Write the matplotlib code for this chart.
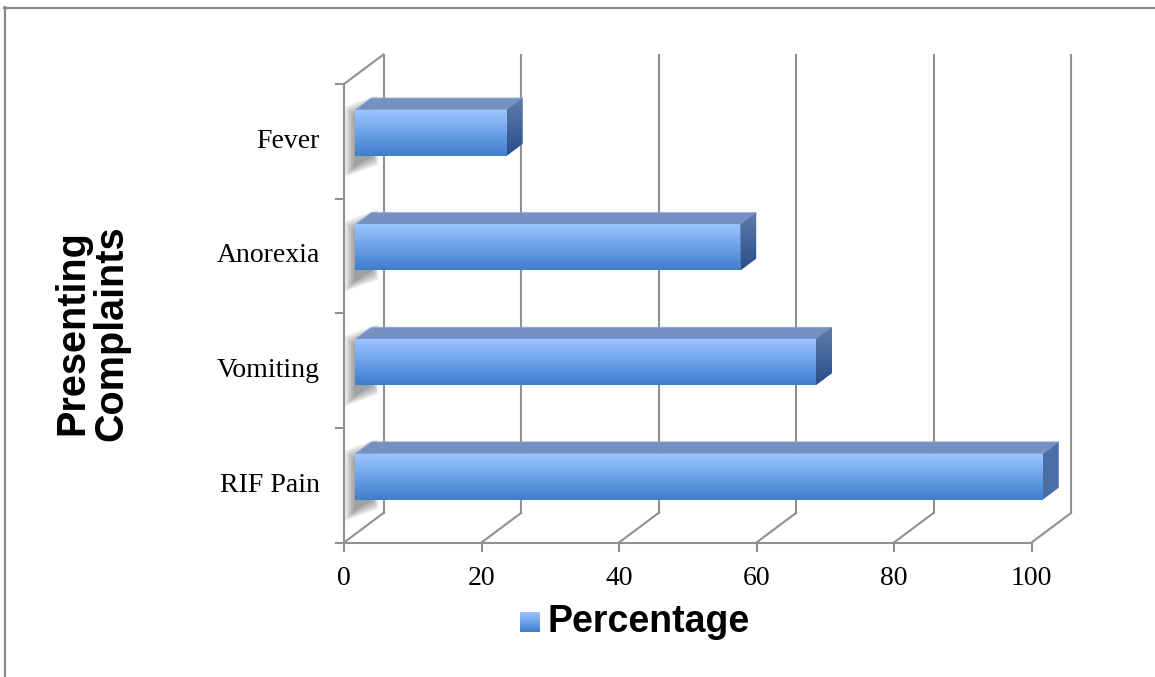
import numpy as np
import matplotlib
matplotlib.use("Agg")
import matplotlib.pyplot as plt
from matplotlib.patches import Polygon, Rectangle
from matplotlib.lines import Line2D

# ---------------- data ----------------
categories = ["RIF Pain", "Vomiting", "Anorexia", "Fever"]
values = [100, 67, 56, 22]
x_ticks = [0, 20, 40, 60, 80, 100]
y_title_lines = ["Presenting", "Complaints"]
series_name = "Percentage"

# ---------------- figure ----------------
W, H = 1155, 677
fig = plt.figure(figsize=(W / 100, H / 100), dpi=100)

def fx(px):
    return px / W

def fy(py):
    return 1 - py / H

ax_l, ax_r, ax_t, ax_b = 344, 1031.5, 84, 542.5
ax = fig.add_axes([fx(ax_l), fy(ax_b), fx(ax_r - ax_l), (ax_b - ax_t) / H])
ax.set_xlim(0, 100)
ax.set_ylim(0, len(categories))
ax.axis("off")

ppx = (ax_r - ax_l) / 100.0           # pixels per x unit
ppy = (ax_b - ax_t) / len(categories) # pixels per category
DX = 39.5 / ppx                        # depth offset (data units)
DY = 29.5 / ppy

grid_c = "#909090"
lw = 1.5

# back wall gridlines + floor diagonals
for v in x_ticks:
    ax.add_line(Line2D([v + DX, v + DX], [DY, len(categories) + DY], color=grid_c, lw=lw, clip_on=False))
    ax.add_line(Line2D([v, v + DX], [0, DY], color=grid_c, lw=lw, clip_on=False))
# left wall
ax.add_line(Line2D([0, 0], [0, len(categories)], color=grid_c, lw=lw, clip_on=False))
ax.add_line(Line2D([0, DX], [len(categories), len(categories) + DY], color=grid_c, lw=lw, clip_on=False))
# front floor edge
ax.add_line(Line2D([0, 100], [0, 0], color=grid_c, lw=lw, clip_on=False))
# x ticks
tick_len = 8 / ppy
for v in x_ticks:
    ax.add_line(Line2D([v, v], [0, -tick_len], color=grid_c, lw=lw, clip_on=False))
    ax.text(v, -36 / ppy, str(v), ha="center", va="center", fontsize=20,
            family="Liberation Serif", color="black")
# y ticks (category boundaries)
for b in range(len(categories) + 1):
    ax.add_line(Line2D([0, -8 / ppx], [b, b], color=grid_c, lw=lw, clip_on=False))

centers = np.arange(len(categories)) + 0.5
for c, name in zip(centers, categories):
    ax.text(-24 / ppx, c, name, ha="right", va="center", fontsize=20,
            family="Liberation Serif", color="black")

# ---------------- bars ----------------
h = 0.40
f0, f1 = 0.29, 0.69

front_grad = np.linspace(0, 1, 64)[:, None]
top_rgb = np.array([155, 196, 255]) / 255
bot_rgb = np.array([62, 125, 206]) / 255
grad_img = (top_rgb[None, None, :] * (1 - front_grad[..., None]) + bot_rgb[None, None, :] * front_grad[..., None])
grad_img = np.repeat(grad_img, 2, axis=1)

side_top = np.array([96, 124, 170]) / 255
side_bot = np.array([40, 78, 138]) / 255
side_img = (side_top[None, None, :] * (1 - front_grad[..., None]) + side_bot[None, None, :] * front_grad[..., None])
side_img = np.repeat(side_img, 2, axis=1)

# shadows on left wall
for c in centers:
    yb, yt = c - h / 2 - 10 / ppy, c + h / 2 - 8 / ppy
    for k in range(7):
        e = (7 - k) * 1.6
        ex, ey = e / ppx, e / ppy
        pts = [(f0 * DX - ex + 0.5 / ppx, yb + f0 * DY - ey), (f0 * DX - ex + 0.5 / ppx, yt + f0 * DY + ey),
               (f1 * DX + ex * 0.6, yt + f1 * DY + ey), (f1 * DX + ex * 0.6, yb + f1 * DY - ey)]
        ax.add_patch(Polygon(pts, closed=True, facecolor="#404040", edgecolor="none",
                             alpha=0.09, clip_on=False, zorder=1.5))

bars = ax.barh(centers + f0 * DY, values, left=f0 * DX, height=h, color="#6fa0e8",
               edgecolor="none", zorder=3, clip_on=False)

for c, v, bar in zip(centers, values, bars):
    y0 = c - h / 2 + f0 * DY
    y1 = c + h / 2 + f0 * DY
    im = ax.imshow(grad_img, extent=[f0 * DX, v + f0 * DX, y0, y1], aspect="auto",
                   zorder=3.1, interpolation="bilinear", origin="upper")
    im.set_clip_path(bar)
    # top face
    top = [(f0 * DX, y1), (v + f0 * DX, y1), (v + f1 * DX, c + h / 2 + f1 * DY), (f1 * DX, c + h / 2 + f1 * DY)]
    ax.add_patch(Polygon(top, closed=True, facecolor="#7591c2", edgecolor="#8aa6d4",
                         lw=0.6, zorder=3, clip_on=False))
    # side face
    side = [(v + f0 * DX, y0), (v + f0 * DX, y1), (v + f1 * DX, c + h / 2 + f1 * DY), (v + f1 * DX, c - h / 2 + f1 * DY)]
    sp = Polygon(side, closed=True, facecolor="#4a6ea6", edgecolor="none", zorder=3, clip_on=False)
    ax.add_patch(sp)
    sim = ax.imshow(side_img, extent=[v + f0 * DX, v + f1 * DX, y0, c + h / 2 + f1 * DY],
                    aspect="auto", zorder=3.1, interpolation="bilinear", origin="upper")
    sim.set_clip_path(sp)

ax.set_xlim(0, 100)
ax.set_ylim(0, len(categories))

# ---------------- axis title ----------------
fig.text(fx(72), fy(333), y_title_lines[0], rotation=90, ha="center", va="center",
         fontsize=28.5, fontweight="bold", family="Liberation Sans")
fig.text(fx(111), fy(333), y_title_lines[1], rotation=90, ha="center", va="center",
         fontsize=28.5, fontweight="bold", family="Liberation Sans")

# ---------------- legend ----------------
lax = fig.add_axes([fx(520), fy(632), fx(20), 20 / H])
lax.imshow(grad_img, extent=[0, 1, 0, 1], aspect="auto", interpolation="bilinear")
lax.axis("off")
fig.text(fx(548), fy(622), series_name, ha="left", va="center", fontsize=27,
         fontweight="bold", family="Liberation Sans")

# ---------------- outer frame ----------------
fig.add_artist(Line2D([fx(4), 1], [fy(7.5), fy(7.5)], color="#8a8a8a", lw=1.6, transform=fig.transFigure))
fig.add_artist(Line2D([fx(4.5), fx(4.5)], [fy(7), 0], color="#8a8a8a", lw=1.6, transform=fig.transFigure))

fig.savefig("out.png", dpi=100)
